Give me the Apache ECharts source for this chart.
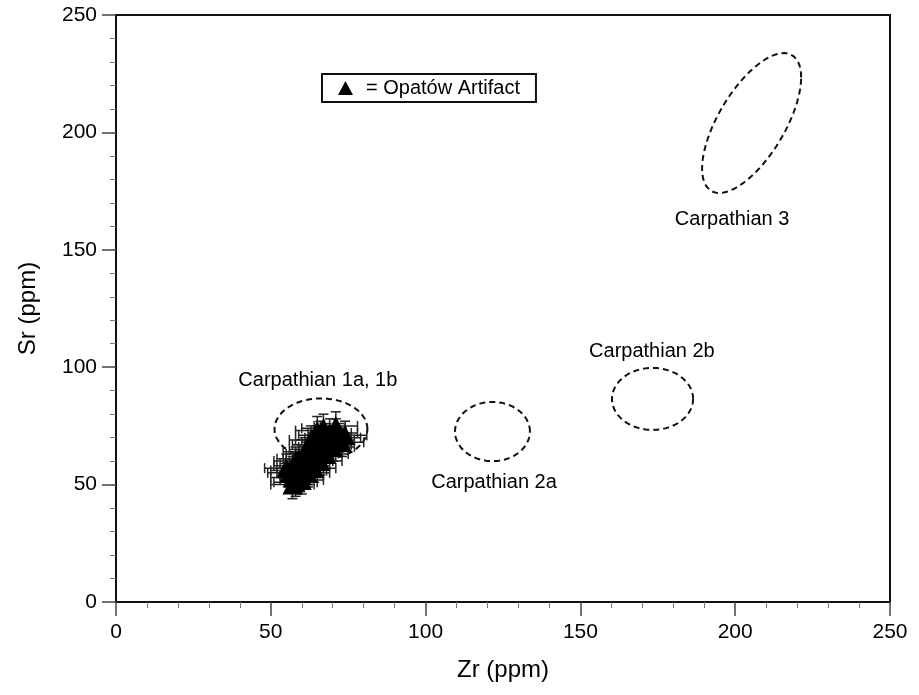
<!DOCTYPE html>
<html>
<head>
<meta charset="utf-8">
<script src="https://cdn.jsdelivr.net/npm/echarts@6/dist/echarts.min.js"></script>
<style>html,body{margin:0;padding:0;background:#fff}#c{width:919px;height:695px}</style>
</head>
<body>
<div id="c"></div>
<script>
// ---- data ----
const xTicks = [0, 50, 100, 150, 200, 250];
const yTicks = [0, 50, 100, 150, 200, 250];

// Opatów artifact measurements: [Zr, Sr]
const artifactPoints = [
  [57,53],[58,51],[59,55],[57,56],[58,58],[60,54],[59,57],[61,56],[60,59],[62,58],
  [61,61],[63,60],[62,63],[64,62],[63,65],[65,64],[64,67],[66,66],[65,69],[67,68],
  [66,71],[68,70],[65,73],[67,74],[69,72],[70,69],[71,72],[72,70],[70,66],[68,63],
  [66,60],[64,57],[62,55],[60,52],[69,67],[73,68],[63,69],[61,64],[59,61],[58,60],
  [56,55],[55,57],[57,50],[74,71],[71,75]
];
const zrError = 7;
const srError = 6;

// source group ellipses: [cx, cy, A, C, D] -> x = cx + A cos t, y = cy + C cos t + D sin t
const ellipseNames = ['Carpathian 1a, 1b', 'Carpathian 2a', 'Carpathian 2b', 'Carpathian 3'];
const ellipseParams = [
  [66.2, 73.7, 15.0, 0, 13.0],
  [121.6, 72.6, 12.1, 0, 12.6],
  [173.3, 86.5, 13.1, 0, 13.2],
  [205.3, 204.0, 16.0, 19.4, 22.6]
];
// label anchor positions (data coords)
const labelPositions = [
  [65.2, 94.5],
  [122.1, 51.1],
  [173.1, 106.9],
  [199.0, 163.1]
];

function ellipseOutline(p) {
  const pts = [];
  const n = 90;
  for (let i = 0; i <= n; i++) {
    const t = 2 * Math.PI * i / n;
    pts.push([p[0] + p[2] * Math.cos(t), p[1] + p[3] * Math.cos(t) + p[4] * Math.sin(t)]);
  }
  return pts;
}

const ink = '#111';
const font = 'Liberation Sans, Arial, Helvetica, sans-serif';

const chart = echarts.init(document.getElementById('c'), null, {renderer: 'canvas'});

const series = [];
ellipseParams.forEach((p, i) => {
  series.push({
    type: 'line',
    name: ellipseNames[i],
    data: ellipseOutline(p),
    showSymbol: false,
    symbol: 'none',
    smooth: false,
    silent: true,
    lineStyle: {color: ink, width: 2, type: [6, 4]},
    z: 2
  });
});

series.push({
  type: 'custom',
  name: 'errors',
  data: artifactPoints.map(p => [p[0], p[1], zrError, srError]),
  renderItem: function (params, api) {
    const x = api.value(0), y = api.value(1), ex = api.value(2), ey = api.value(3);
    const l = api.coord([x - ex, y]);
    const r = api.coord([x + ex, y]);
    const t = api.coord([x, y + ey]);
    const b = api.coord([x, y - ey]);
    const cap = 5;
    const style = {stroke: '#222', lineWidth: 1.5};
    return {
      type: 'group',
      children: [
        {type: 'line', shape: {x1: l[0], y1: l[1], x2: r[0], y2: r[1]}, style},
        {type: 'line', shape: {x1: l[0], y1: l[1] - cap, x2: l[0], y2: l[1] + cap}, style},
        {type: 'line', shape: {x1: r[0], y1: r[1] - cap, x2: r[0], y2: r[1] + cap}, style},
        {type: 'line', shape: {x1: t[0], y1: t[1], x2: b[0], y2: b[1]}, style},
        {type: 'line', shape: {x1: t[0] - cap, y1: t[1], x2: t[0] + cap, y2: t[1]}, style},
        {type: 'line', shape: {x1: b[0] - cap, y1: b[1], x2: b[0] + cap, y2: b[1]}, style}
      ]
    };
  },
  silent: true,
  z: 3
});

series.push({
  type: 'scatter',
  name: 'Opatów Artifact',
  data: artifactPoints,
  symbol: 'triangle',
  symbolSize: [20, 20],
  itemStyle: {color: '#000', opacity: 1},
  silent: true,
  z: 4
});

series.push({
  type: 'scatter',
  name: 'labels',
  data: labelPositions.map((p, i) => ({value: p, name: ellipseNames[i]})),
  symbolSize: 1,
  itemStyle: {color: 'rgba(0,0,0,0)'},
  silent: true,
  label: {
    show: true,
    position: 'inside',
    formatter: '{b}',
    color: '#000',
    opacity: 1,
    fontSize: 20,
    fontFamily: font
  },
  z: 5
});

chart.setOption({
  animation: false,
  backgroundColor: '#fff',
  grid: {left: 116, right: 29, top: 15, bottom: 93, show: true, borderColor: ink, borderWidth: 2, backgroundColor: 'transparent'},
  legend: {
    data: [{name: 'Opatów Artifact', icon: 'triangle'}],
    formatter: '= {name}',
    left: 322,
    top: 74,
    itemWidth: 15,
    itemHeight: 14,
    padding: [4, 16, 4, 16],
    borderColor: ink,
    borderWidth: 2,
    backgroundColor: '#fff',
    selectedMode: false,
    textStyle: {fontSize: 20, fontFamily: font, color: '#000', padding: [0, 0, 0, 8]}
  },
  xAxis: {
    type: 'value',
    min: xTicks[0], max: xTicks[xTicks.length - 1], interval: xTicks[1] - xTicks[0],
    name: 'Zr (ppm)', nameLocation: 'middle', nameGap: 56,
    nameTextStyle: {fontSize: 24, fontFamily: font, color: '#000'},
    axisLine: {show: true, onZero: false, lineStyle: {color: ink, width: 2}},
    axisTick: {show: true, inside: false, length: 14, lineStyle: {color: '#444', width: 1.5}},
    minorTick: {show: true, splitNumber: 5, length: 6, lineStyle: {color: '#777', width: 1}},
    axisLabel: {fontSize: 21, fontFamily: font, color: '#000', margin: 20},
    splitLine: {show: false}
  },
  yAxis: {
    type: 'value',
    min: yTicks[0], max: yTicks[yTicks.length - 1], interval: yTicks[1] - yTicks[0],
    name: 'Sr (ppm)', nameLocation: 'middle', nameGap: 76,
    nameTextStyle: {fontSize: 24, fontFamily: font, color: '#000'},
    axisLine: {show: true, onZero: false, lineStyle: {color: ink, width: 2}},
    axisTick: {show: true, inside: false, length: 14, lineStyle: {color: '#444', width: 1.5}},
    minorTick: {show: true, splitNumber: 5, length: 6, lineStyle: {color: '#777', width: 1}},
    axisLabel: {fontSize: 21, fontFamily: font, color: '#000', margin: 19},
    splitLine: {show: false}
  },
  series: series
});
</script>
</body>
</html>
